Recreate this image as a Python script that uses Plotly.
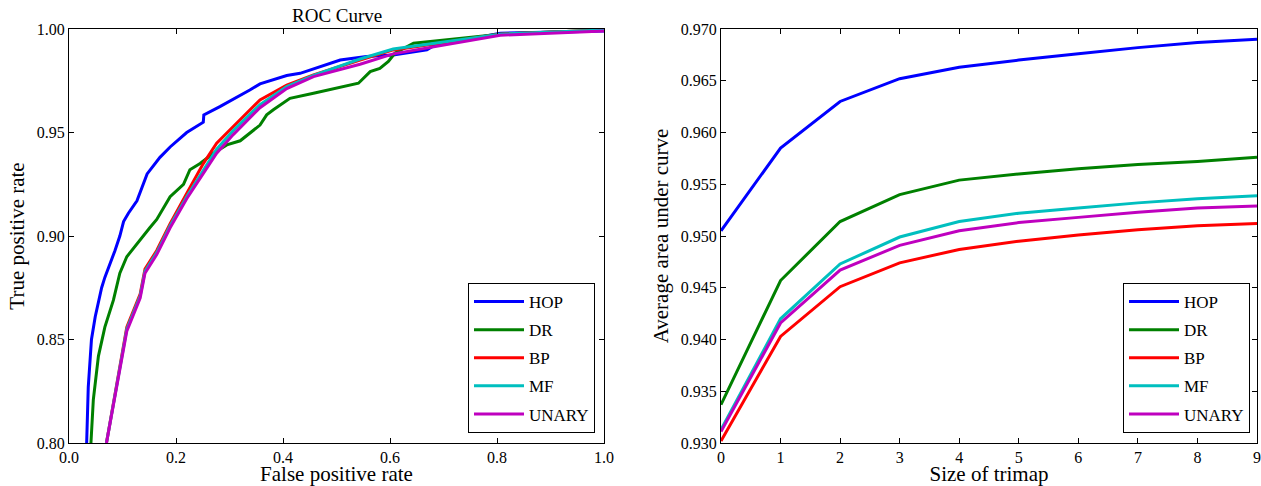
import plotly.graph_objects as go

# ---------------- data ----------------
methods = ["HOP", "DR", "BP", "MF", "UNARY"]
colors = ["#0000ff", "#008000", "#ff0000", "#00bfbf", "#bf00bf"]

hop_fpr = [0.033, 0.036, 0.042, 0.049, 0.061, 0.067, 0.086, 0.095, 0.102, 0.111, 0.127, 0.139, 0.146,
           0.170, 0.189, 0.220, 0.251, 0.252, 0.282, 0.338, 0.357, 0.407, 0.432, 0.507, 0.556, 0.606,
           0.669, 0.681, 0.806, 1.0]
hop_tpr = [0.800, 0.827, 0.850, 0.861, 0.875, 0.880, 0.893, 0.900, 0.907, 0.911, 0.917, 0.925, 0.930,
           0.938, 0.943, 0.950, 0.955, 0.9585, 0.9625, 0.9705, 0.9735, 0.9775, 0.9786, 0.985, 0.9867,
           0.9874, 0.9899, 0.9918, 0.998, 0.999]

dr_fpr = [0.041, 0.0455, 0.055, 0.067, 0.083, 0.095, 0.108, 0.117, 0.139, 0.151, 0.164, 0.189, 0.214,
          0.226, 0.245, 0.270, 0.295, 0.320, 0.357, 0.3695, 0.382, 0.413, 0.457, 0.500, 0.541, 0.563,
          0.581, 0.597, 0.609, 0.644, 0.712, 0.806, 1.0]
dr_tpr = [0.800, 0.821, 0.842, 0.856, 0.869, 0.882, 0.890, 0.893, 0.900, 0.904, 0.908, 0.919, 0.925,
          0.932, 0.935, 0.940, 0.944, 0.946, 0.9536, 0.9585, 0.961, 0.9665, 0.969, 0.9714, 0.9738,
          0.9794, 0.981, 0.9843, 0.9883, 0.9931, 0.995, 0.9975, 0.9995]

base_fpr = [0.070, 0.086, 0.108, 0.133, 0.142, 0.164, 0.189, 0.220, 0.251, 0.276, 0.307, 0.357, 0.407,
            0.457, 0.544, 0.606, 0.806, 1.0]
bp_tpr = [0.800, 0.824, 0.856, 0.872, 0.884, 0.893, 0.906, 0.9206, 0.935, 0.9448, 0.9528, 0.9657,
          0.9729, 0.9778, 0.985, 0.9899, 0.9975, 0.9995]
mf_tpr = [0.800, 0.823, 0.855, 0.871, 0.883, 0.892, 0.905, 0.919, 0.932, 0.942, 0.951, 0.9635,
          0.9722, 0.9776, 0.9855, 0.9903, 0.9975, 0.9995]
unary_tpr = [0.800, 0.822, 0.854, 0.870, 0.882, 0.891, 0.904, 0.918, 0.930, 0.940, 0.949, 0.962,
             0.9712, 0.977, 0.983, 0.988, 0.997, 0.999]

roc_fpr = [hop_fpr, dr_fpr, base_fpr, base_fpr, base_fpr]
roc_tpr = [hop_tpr, dr_tpr, bp_tpr, mf_tpr, unary_tpr]

trimap = [0, 1, 2, 3, 4, 5, 6, 7, 8, 9]
auc_hop = [0.9505, 0.9585, 0.9630, 0.9652, 0.9663, 0.9670, 0.9676, 0.9682, 0.9687, 0.9690]
auc_dr = [0.9337, 0.9457, 0.9514, 0.9540, 0.9554, 0.9560, 0.9565, 0.9569, 0.9572, 0.9576]
auc_bp = [0.9302, 0.9403, 0.9451, 0.9474, 0.9487, 0.9495, 0.9501, 0.9506, 0.9510, 0.9512]
auc_mf = [0.9313, 0.9420, 0.9473, 0.9499, 0.9514, 0.9522, 0.9527, 0.9532, 0.9536, 0.9539]
auc_unary = [0.9311, 0.9416, 0.9467, 0.9491, 0.9505, 0.9513, 0.9518, 0.9523, 0.9527, 0.9529]
auc_all = [auc_hop, auc_dr, auc_bp, auc_mf, auc_unary]

left_xticks = [0.0, 0.2, 0.4, 0.6, 0.8, 1.0]
left_yticks = [0.80, 0.85, 0.90, 0.95, 1.00]
right_yticks = [0.930, 0.935, 0.940, 0.945, 0.950, 0.955, 0.960, 0.965, 0.970]

# ---------------- figure ----------------
FONT = "Liberation Serif, Times New Roman, DejaVu Serif, serif"
fig = go.Figure()

for i, m in enumerate(methods):
    fig.add_trace(go.Scatter(x=roc_fpr[i], y=roc_tpr[i], mode="lines", name=m,
                             line=dict(color=colors[i], width=3),
                             xaxis="x", yaxis="y", legend="legend",
                             legendgroup="a" + m))
for i, m in enumerate(methods):
    fig.add_trace(go.Scatter(x=trimap, y=auc_all[i], mode="lines", name=m,
                             line=dict(color=colors[i], width=3),
                             xaxis="x2", yaxis="y2", legend="legend2",
                             legendgroup="b" + m))

W, H = 1261, 486


def px(x):
    return x / W


def py(y):
    return 1 - y / H


ydom = [py(443), py(29)]
axcommon = dict(showgrid=False, zeroline=False, showline=True, linecolor="black", linewidth=1.2,
                mirror="ticks", ticks="inside", ticklen=5, tickcolor="black", tickwidth=1,
                automargin=False, ticklabeloverflow="allow",
                tickfont=dict(family=FONT, size=16, color="black"))

legcommon = dict(xanchor="right", yanchor="bottom", bgcolor="white", bordercolor="black",
                 borderwidth=1, font=dict(family=FONT, size=17, color="black"),
                 tracegroupgap=3, itemwidth=50)

TF = dict(family=FONT, size=21, color="black")

fig.update_layout(
    width=W, height=H,
    margin=dict(l=0, r=0, t=0, b=0),
    plot_bgcolor="white", paper_bgcolor="white",
    font=dict(family=FONT, color="black"),
    xaxis=dict(domain=[px(69), px(604)], range=[0, 1], tickvals=left_xticks,
               ticktext=[f"{v:.1f}" for v in left_xticks], anchor="y",
               title=dict(text="False positive rate", font=TF, standoff=8),
               **axcommon),
    yaxis=dict(domain=ydom, range=[0.8, 1.0], tickvals=left_yticks,
               ticktext=[f"{v:.2f}" for v in left_yticks], anchor="x",
               title=dict(text="True positive rate", font=TF, standoff=6),
               **axcommon),
    xaxis2=dict(domain=[px(721), px(1257)], range=[0, 9], tickvals=trimap,
                ticktext=[str(v) for v in trimap], anchor="y2",
                title=dict(text="Size of trimap", font=TF, standoff=8),
                **axcommon),
    yaxis2=dict(domain=ydom, range=[0.930, 0.970], tickvals=right_yticks,
                ticktext=[f"{v:.3f}" for v in right_yticks], anchor="x2",
                title=dict(text="Average area under curve", font=TF, standoff=6),
                **axcommon),
    legend=dict(x=px(595), y=py(433), **legcommon),
    legend2=dict(x=px(1250), y=py(433), **legcommon),
    annotations=[dict(text="ROC Curve", x=px((69 + 604) / 2), y=py(16), xref="paper",
                      yref="paper", showarrow=False, xanchor="center", yanchor="middle",
                      font=dict(family=FONT, size=19, color="black"))],
)

# remove the browser's default body margin so the figure fills the 1261x486 window exactly
fig.write_html("out.html", config={"displayModeBar": False},
               post_script="document.body.style.margin='0';document.body.style.overflow='hidden';")
